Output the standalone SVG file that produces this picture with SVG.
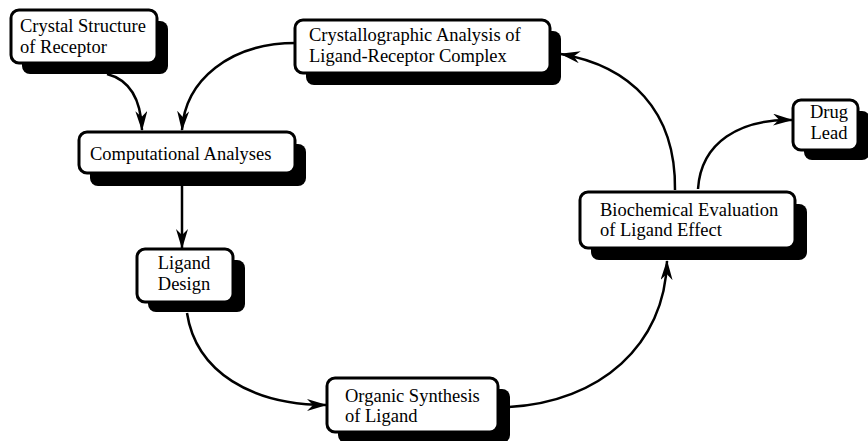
<svg xmlns="http://www.w3.org/2000/svg" width="868" height="441" viewBox="0 0 868 441">
<defs>
<style>
.box{fill:#fff;stroke:#000;stroke-width:3}
.sh{fill:#000}
.t{font-family:"Liberation Serif","Times New Roman",serif;font-size:18.5px;fill:#000}
.c{text-anchor:middle}
.ln{fill:none;stroke:#000;stroke-width:2.5}
</style>
<marker id="ah" markerUnits="userSpaceOnUse" markerWidth="20" markerHeight="13" refX="19" refY="6" orient="auto" viewBox="0 0 20 13">
<path d="M0,0 L20,6 L0,12 L6,6 Z" fill="#000"/>
</marker>
</defs>
<rect width="868" height="441" fill="#fff"/>
<g id="connectors">
<path class="ln" marker-end="url(#ah)" d="M107,74 C130,80 141,100 142,130"/>
<path class="ln" marker-end="url(#ah)" d="M296,43 C230,43 185,80 182,130"/>
<path class="ln" marker-end="url(#ah)" d="M182,186 L182,248"/>
<path class="ln" marker-end="url(#ah)" d="M187,313 C196,372 252,405 326,405"/>
<path class="ln" marker-end="url(#ah)" d="M509,407 C600,402 665,345 667,261"/>
<path class="ln" marker-end="url(#ah)" d="M675,190 C676,110 630,66 561,54"/>
<path class="ln" marker-end="url(#ah)" d="M698,189 C701,142 740,119 792,120"/>
</g>
<g id="crystal-structure">
<rect class="sh" x="22" y="21" width="146" height="53" rx="8"/>
<rect class="box" x="11" y="10" width="146" height="53" rx="8"/>
<text class="t" x="20" y="32">Crystal Structure</text>
<text class="t" x="20" y="53">of Receptor</text>
</g>
<g id="computational">
<rect class="sh" x="90" y="144" width="216" height="42" rx="8"/>
<rect class="box" x="79" y="132" width="216" height="41" rx="8"/>
<text class="t" x="90" y="160">Computational Analyses</text>
</g>
<g id="crystallographic">
<rect class="sh" x="306" y="31" width="255" height="54" rx="8"/>
<rect class="box" x="295" y="20" width="255" height="53" rx="8"/>
<text class="t" x="309" y="41">Crystallographic Analysis of</text>
<text class="t" x="309" y="62">Ligand-Receptor Complex</text>
</g>
<g id="ligand-design">
<rect class="sh" x="148" y="260" width="97" height="52" rx="8"/>
<rect class="box" x="137" y="249" width="96" height="53" rx="8"/>
<text class="t c" x="184" y="269">Ligand</text>
<text class="t c" x="184" y="290">Design</text>
</g>
<g id="organic-synthesis">
<rect class="sh" x="338" y="389" width="172" height="54" rx="8"/>
<rect class="box" x="327" y="378" width="171" height="54" rx="8"/>
<text class="t" x="345" y="402">Organic Synthesis</text>
<text class="t" x="345" y="422">of Ligand</text>
</g>
<g id="biochemical">
<rect class="sh" x="591" y="204" width="216" height="56" rx="8"/>
<rect class="box" x="580" y="192" width="215" height="56" rx="8"/>
<text class="t" x="600" y="216">Biochemical Evaluation</text>
<text class="t" x="600" y="236">of Ligand Effect</text>
</g>
<g id="drug-lead">
<rect class="sh" x="804" y="111" width="66" height="49" rx="8"/>
<rect class="box" x="793" y="100" width="65" height="50" rx="8"/>
<text class="t c" x="829" y="118">Drug</text>
<text class="t c" x="829" y="139">Lead</text>
</g>
</svg>
